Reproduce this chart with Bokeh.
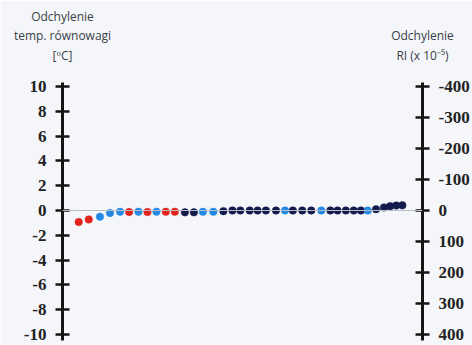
from bokeh.plotting import figure
from bokeh.models import Range1d, LinearAxis, FixedTicker, Span
from bokeh.embed import file_html
from bokeh.resources import INLINE

# ---- data ----
x_pos = [4.5, 7.3, 10.4, 13.2, 16.0, 18.5, 21.1, 23.6, 26.1, 28.7, 31.2, 34.0, 36.5,
         39.0, 41.9, 44.7, 47.2, 49.4, 52.0, 54.2, 56.5, 59.3, 61.8, 64.0, 66.6, 69.1,
         71.9, 74.4, 76.4, 78.7, 80.9, 82.9, 84.8, 87.1, 89.3, 91.0, 92.7, 94.4]
temp_dev = [-0.93, -0.72, -0.5, -0.2, -0.1, -0.12, -0.1, -0.12, -0.1, -0.1, -0.1, -0.15, -0.15,
            -0.1, -0.1, -0.05, 0.0, 0.0, 0.0, 0.0, 0.0, 0.0, 0.0, 0.0, 0.0, 0.0,
            0.0, 0.0, 0.0, 0.0, 0.0, 0.0, 0.0, 0.1, 0.25, 0.35, 0.4, 0.42]
group = ['r', 'r', 'b', 'b', 'b', 'r', 'b', 'r', 'b', 'r', 'r', 'n', 'n',
         'b', 'b', 'n', 'n', 'n', 'n', 'n', 'n', 'n', 'b', 'n', 'n', 'n',
         'b', 'n', 'n', 'n', 'n', 'n', 'b', 'n', 'n', 'n', 'n', 'n']
left_ticks = [-10, -8, -6, -4, -2, 0, 2, 4, 6, 8, 10]
right_ticks = [-400, -300, -200, -100, 0, 100, 200, 300, 400]
ri_per_degree = -40.0
left_title = ["Odchylenie", "temp. równowagi", "[ºC]"]
right_title = ["Odchylenie", "RI (x 10⁻⁵)"]

palette = {'r': '#e2231b', 'b': '#2489e4', 'n': '#121a4e'}
colors = [palette[g] for g in group]

BG = '#f4f6fa'
y0, y1 = -10.48, 11.61
x0, x1 = 0, 100

p = figure(width=472, height=345, output_backend="svg", toolbar_location=None,
           x_range=Range1d(x0, x1), y_range=Range1d(y0, y1),
           min_border_left=62, min_border_right=4, min_border_top=66, min_border_bottom=5,
           background_fill_color=BG, border_fill_color=BG, outline_line_color=None)
p.xaxis.visible = False
p.xgrid.visible = False
p.ygrid.visible = False


def style_axis(a, standoff, ticks):
    a.ticker = FixedTicker(ticks=ticks)
    a.major_label_overrides = {t: str(t) for t in ticks}
    a.axis_line_width = 3
    a.axis_line_color = '#151515'
    a.major_tick_line_width = 2.5
    a.major_tick_line_color = '#151515'
    a.major_tick_in = 7
    a.major_tick_out = 7
    a.minor_tick_line_color = None
    a.major_label_text_font = "Liberation Serif"
    a.major_label_text_font_style = "bold"
    a.major_label_text_font_size = "17px"
    a.major_label_text_color = '#222222'
    a.major_label_standoff = standoff


ax = p.yaxis[0]
ax.bounds = (-10.7, 10.3)
style_axis(ax, 9, left_ticks)

p.extra_y_ranges = {"ri": Range1d(start=ri_per_degree * y0, end=ri_per_degree * y1)}
rax = LinearAxis(y_range_name="ri")
rax.bounds = (-412, 428)
style_axis(rax, 9, right_ticks)
p.add_layout(rax, "right")

# axis titles, drawn as labels of an invisible top axis placed at both frame edges
tax = LinearAxis(ticker=FixedTicker(ticks=[x0, x1]),
                 major_label_overrides={x0: "\n".join(left_title), x1: "\n".join(right_title)})
tax.axis_line_color = None
tax.major_tick_line_color = None
tax.minor_tick_line_color = None
tax.major_tick_in = 0
tax.major_tick_out = 0
tax.major_label_standoff = 3
tax.major_label_text_font = "Open Sans"
tax.major_label_text_font_size = "12px"
tax.major_label_text_color = '#3a3f48'
tax.major_label_text_line_height = 1.12
p.add_layout(tax, "above")

p.add_layout(Span(location=0, dimension='width', line_color='#b8bcc4', line_width=1))

p.scatter(x_pos, temp_dev, size=7.5, fill_color=colors, line_color=colors, line_width=0.5)

open("out.html", "w").write(file_html(p, INLINE))
